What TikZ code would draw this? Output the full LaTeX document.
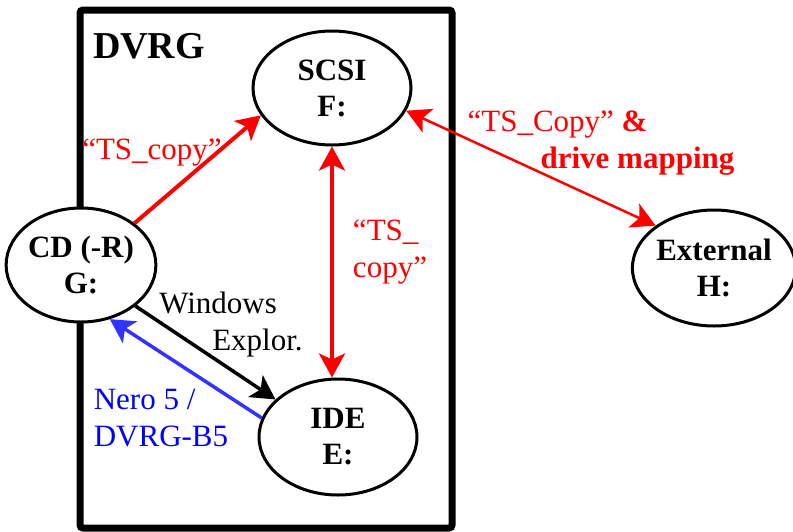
\documentclass[tikz,border=0pt]{standalone}
\usepackage{fontspec}
\setmainfont{Liberation Serif}
\usetikzlibrary{shapes.geometric,arrows.meta}
\definecolor{neroblue}{RGB}{51,51,255}

\begin{document}
\begin{tikzpicture}[x=1pt,y=-1pt,
  >={Stealth[length=24pt,width=26pt,inset=6pt]},
  drive/.style={ellipse,draw,line width=3pt,fill=white,inner sep=0pt,
    align=center,font=\fontsize{31}{36}\selectfont\bfseries},
  txt/.style={inner sep=0pt,font=\fontsize{31}{37}\selectfont}
]
  \useasboundingbox (0,0) rectangle (793,531);

  \draw[line width=7pt,rounded corners=3pt] (80,10) rectangle (452,528);
  \node[font=\fontsize{38}{40}\selectfont\bfseries,inner sep=0pt] (dvrg) at (149,46) {DVRG};

  \node[drive,minimum width=158pt,minimum height=114pt] (scsi) at (332,88) {SCSI\\F:};
  \node[drive,minimum width=136pt,minimum height=114pt] (cd) at (81,265) {CD (-R)\\G:};
  \node[drive,minimum width=158pt,minimum height=116pt] (ide) at (338,437) {IDE\\E:};
  \node[drive,minimum width=152pt,minimum height=116pt] (ext) at (714,268) {External\\H:};

  \draw[->,red,line width=4pt] (cd.38) -- (scsi.201);
  \draw[<->,red,line width=4pt] (scsi.south) -- (scsi.south |- ide.north);
  \draw[<->,red,line width=2.5pt] (scsi.-17) -- (ext.144);
  \draw[->,line width=3.5pt] (cd.-37) -- (ide.149);
  \draw[->,neroblue,line width=3.5pt] (ide.166) -- (cd.-62);

  \node[txt,red] (copyA) at (152,153) {“TS\_copy”};
  \node[txt,red,align=left] (copyB) at (390,252) {“TS\_\\copy”};
  \node[txt,align=left] (explor) at (231,325) {Windows\\\hspace*{53pt}Explor.};
  \node[txt,blue,align=left] (nero) at (161,418) {Nero 5 /\\DVRG-B5};
  \node[txt,red,align=left] (mapping) at (601,143) {“TS\_Copy” \textbf{\&}\\\hspace*{73pt}\textbf{drive mapping}};
\end{tikzpicture}
\end{document}
